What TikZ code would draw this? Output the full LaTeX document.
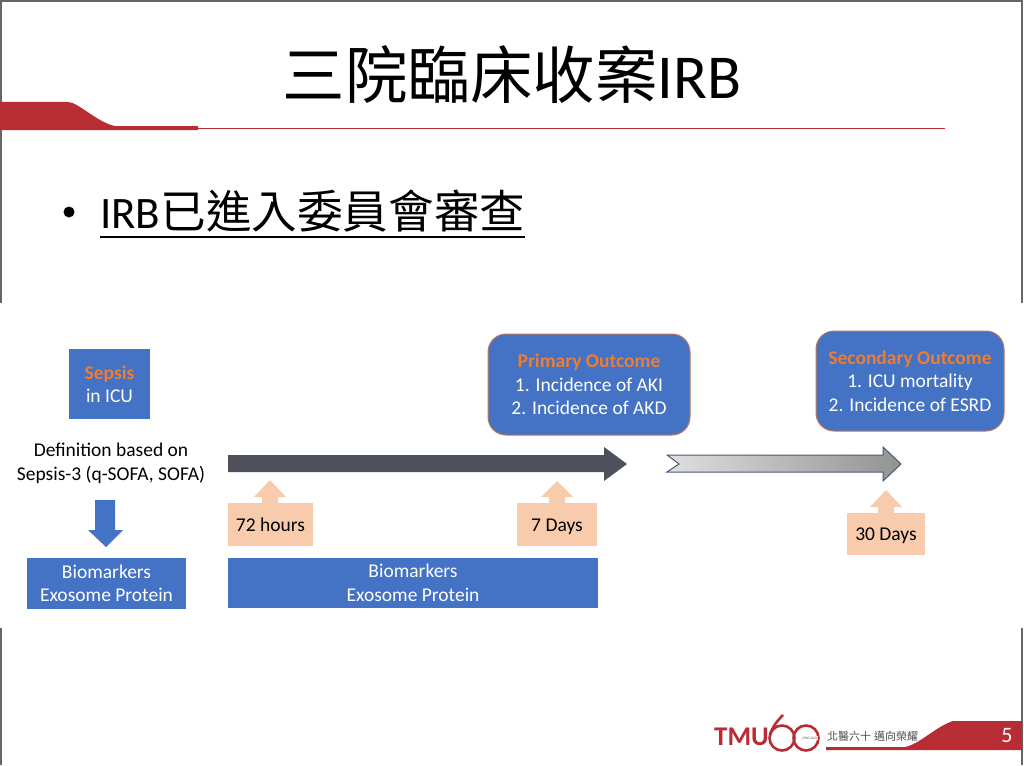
\documentclass[tikz,border=0pt]{standalone}
\usepackage{fontspec}
\usepackage{xcolor}
\usepackage{tikz}
\usetikzlibrary{positioning}
\setmainfont{Carlito}
\newfontfamily\cjk{Noto Sans CJK TC}
\definecolor{boxblue}{RGB}{68, 114, 196}
\definecolor{titlered}{RGB}{184, 44, 52}
\definecolor{calloutpeach}{RGB}{248, 203, 173}
\definecolor{headorange}{RGB}{237, 125, 49}
\definecolor{shaftdark}{RGB}{78, 80, 92}

\begin{document}
\begin{tikzpicture}[
    x=1pt, y=-1pt,
    block/.style   = {rectangle, fill=boxblue, inner sep=0pt, align=center,
                      text=white, font=\fontsize{19.5}{23.5}\selectfont},
    outcome/.style = {block, rounded corners=18pt, draw=headorange!70!boxblue, line width=1pt},
    peach/.style   = {rectangle, fill=calloutpeach, inner sep=0pt, text=black,
                      text height=16pt, text depth=3pt,
                      font=\fontsize{19.5}{22}\selectfont},
    pointer/.style = {fill=calloutpeach},
  ]
  \useasboundingbox (0,0) rectangle (1024,765);

  %% Slide frame
  \fill[white] (0,0) rectangle (1024,765);
  \draw[gray!80!black, line width=1.5pt] (1,303) -- (1,1) -- (1022,1) -- (1022,303);
  \draw[gray!80!black, line width=1.5pt] (1,628) -- (1,765);
  \draw[gray!80!black, line width=1.5pt] (1022,628) -- (1022,765);

  %% Title and rule
  \node (title) at (512,75) {\fontsize{62.5}{62.5}\selectfont\cjk 三院臨床收案\fontspec{Carlito}IRB};
  \fill[titlered] (0,102) -- (68,102) .. controls (78,102) and (98,123) .. (115,126)
    -- (198,126) -- (198,130) -- (0,130) -- cycle;
  \draw[titlered, line width=0.8pt] (198,128) -- (945,128);

  %% Bullet
  \fill (69,212) circle (5.5);
  \node[anchor=base west, inner sep=0pt] (bullet) at (100,228)
    {\fontsize{45}{45}\selectfont IRB\fontsize{45.6}{45.6}\selectfont\cjk 已進入委員會審查};
  \draw[black, line width=1.6pt] (100,237) -- (525,237);

  %% Left column
  \node[block, minimum width=81pt, minimum height=70pt] (sepsis) at (109.5,384)
    {{\bfseries\color{headorange}Sepsis}\\in ICU};
  \node[align=center, inner sep=0pt, font=\fontsize{19.5}{24}\selectfont] (defn) at (111,463)
    {Definition based on\\Sepsis-3 (q-SOFA, SOFA)};
  \fill[boxblue] (95,500) -- (115,500) -- (115,530) -- (123,530) -- (106,547)
    -- (88,530) -- (95,530) -- cycle;
  \node[block, minimum width=159pt, minimum height=51pt] (biomarkleft) at (106.5,583.5)
    {Biomarkers\\Exosome Protein};

  %% Timeline arrows
  \fill[shaftdark] (228,455) -- (604,455) -- (604,447) -- (627,464) -- (604,481)
    -- (604,472) -- (228,472) -- cycle;
  \shade[left color=gray!25, right color=gray!85, draw=shaftdark!70!boxblue, line width=1pt]
    (667,455) -- (883,455) -- (883,447) -- (901,464) -- (883,481) -- (883,472)
    -- (667,472) -- (679,464) -- cycle;

  %% Time callouts
  \node[peach, minimum width=85pt, minimum height=43pt] (hours) at (270.5,524.5) {72 hours};
  \fill[pointer] (262,503) -- (262,497) -- (254,497) -- (270,480) -- (286,497)
    -- (278,497) -- (278,503) -- cycle;
  \node[peach, minimum width=80pt, minimum height=43pt] (sevendays) at (557,524.5) {7 Days};
  \fill[pointer] (549,503) -- (549,497) -- (541,497) -- (557,481) -- (573,497)
    -- (565,497) -- (565,503) -- cycle;
  \node[peach, minimum width=78pt, minimum height=42pt] (thirtydays) at (886,534) {30 Days};
  \fill[pointer] (878,513) -- (878,507) -- (870,507) -- (886,490) -- (902,507)
    -- (894,507) -- (894,513) -- cycle;

  \node[block, minimum width=370pt, minimum height=50pt] (biomarkmid) at (413,583)
    {Biomarkers\\Exosome Protein};

  %% Outcomes
  \node[outcome, minimum width=202pt, minimum height=101pt] (primary) at (589,384.5)
    {{\bfseries\color{headorange}Primary Outcome}\\1. Incidence of AKI\\2. Incidence of AKD};
  \node[outcome, minimum width=188pt, minimum height=100pt] (secondary) at (910,381)
    {{\bfseries\color{headorange}Secondary Outcome}\\1. ICU mortality\\2. Incidence of ESRD};

  %% Footer
  \node[font=\fontsize{27}{27}\selectfont\bfseries, text=titlered, inner sep=0pt, anchor=east] (tmu) at (769,737) {TMU};
  \draw[titlered, line width=2.6pt] (782,738) circle (12.5);
  \draw[titlered, line width=2.6pt] (806,738) circle (12.5);
  \draw[titlered, line width=2.6pt] (770,735) .. controls (772,727) and (778,720) .. (783,715);
  \node[font=\fontsize{3.6}{4}\selectfont, text=gray!70!black, fill=white, inner sep=0.5pt] (years) at (810,738) {1960-2020};
  \node[font=\fontsize{11}{12}\selectfont\cjk, text=gray!60!black, inner sep=0pt, anchor=west] (motto) at (827,736) {北醫六十\hspace{3pt}邁向榮耀};
  \fill[titlered] (826,747) -- (905,747) .. controls (920,744) and (935,727) .. (953,721)
    -- (1022,721) -- (1022,750) -- (826,750) -- cycle;
  \node[font=\fontsize{22}{22}\selectfont, text=white, inner sep=0pt] (pageno) at (1007,736) {5};
\end{tikzpicture}
\end{document}
